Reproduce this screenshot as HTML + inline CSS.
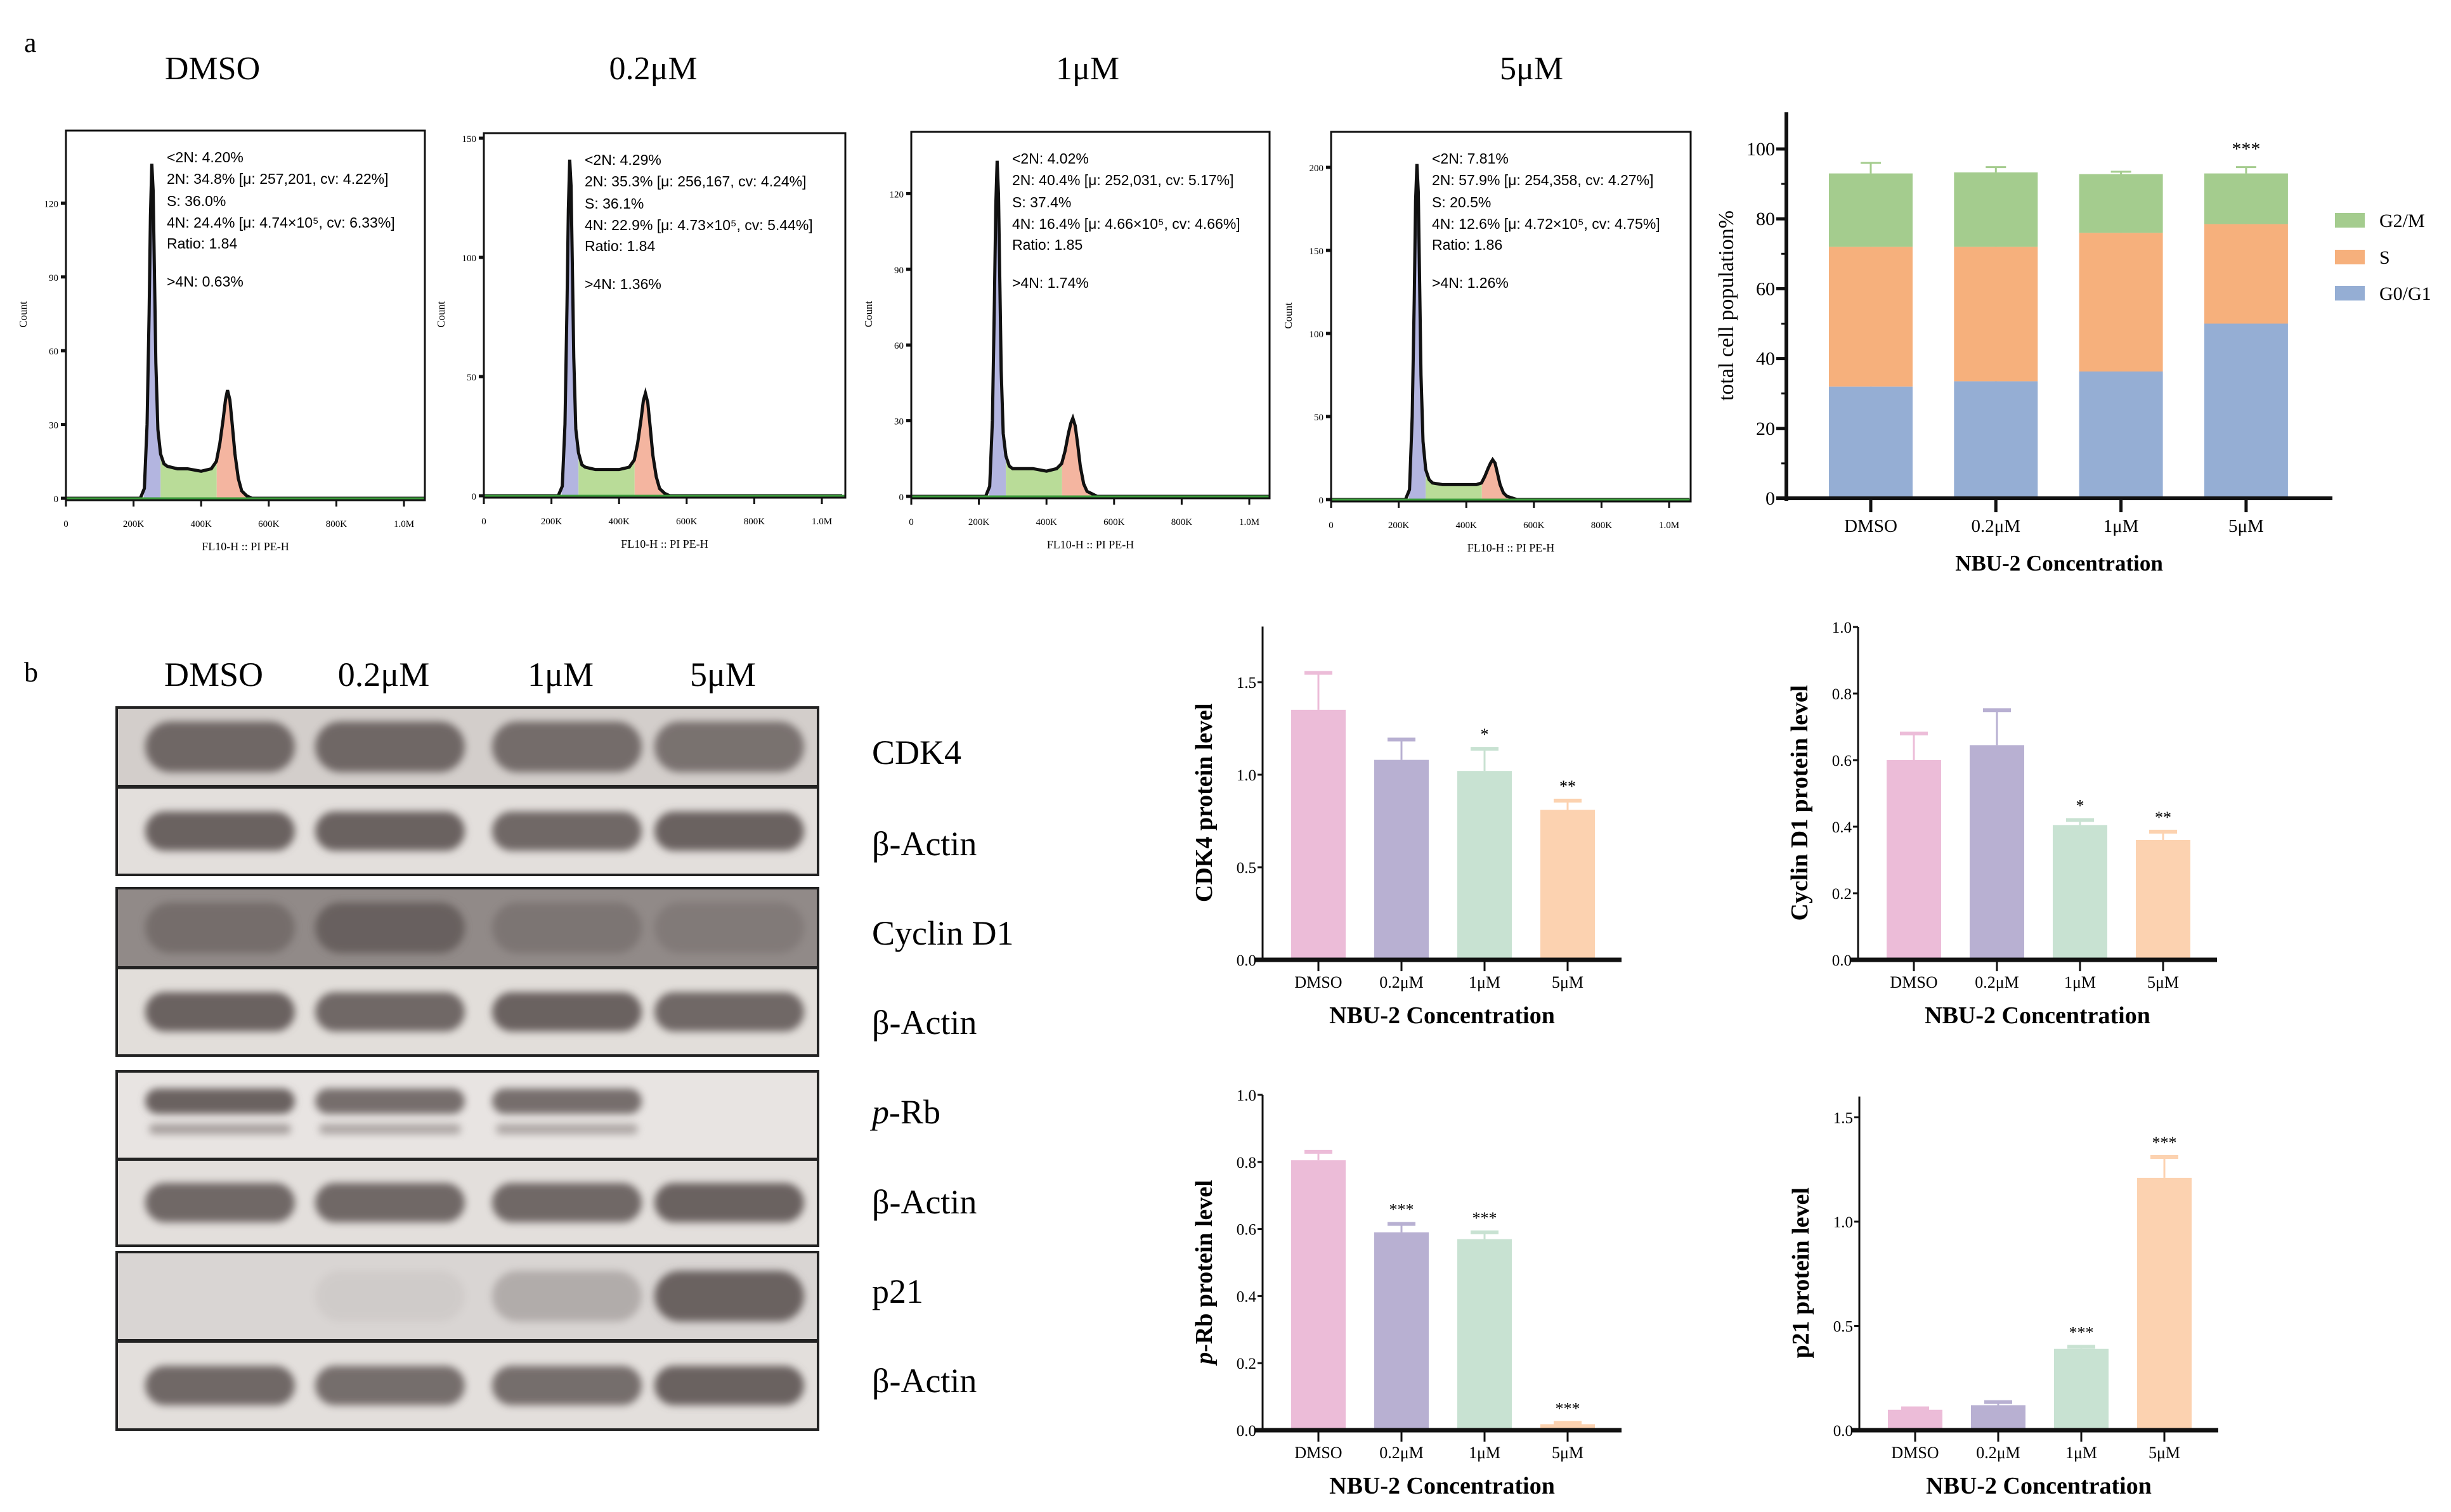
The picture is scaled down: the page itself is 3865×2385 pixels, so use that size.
<!DOCTYPE html>
<html><head><meta charset="utf-8">
<style>
html,body{margin:0;padding:0;background:#fff;}
svg{display:block;}
</style></head>
<body>
<svg id="fig" xmlns="http://www.w3.org/2000/svg" width="3865" height="2385" viewBox="0 0 3865 2385">
<rect width="3865" height="2385" fill="#fff"/>
<text x="38" y="82" font-family="Liberation Serif, serif" font-size="44">a</text>
<text x="38" y="1075" font-family="Liberation Serif, serif" font-size="44">b</text>
<g id="flow"></g>
<g id="stack"></g>
<g id="blot"></g>
<g id="bars"></g>
</svg>
<script>
const NS="http://www.w3.org/2000/svg";
function mk(tag,attrs,parent,text){const e=document.createElementNS(NS,tag);for(const k in attrs)e.setAttribute(k,attrs[k]);if(text!==undefined)e.textContent=text;if(parent)parent.appendChild(e);return e;}
const SERIF="Liberation Serif, serif", SANS="Liberation Sans, sans-serif";

/* ---------- Flow cytometry data ---------- */
const flowTitles=["DMSO","0.2\u03bcM","1\u03bcM","5\u03bcM"];
const flowX=[0,220,232,240,246,250,254,258,262,266,272,280,290,300,330,360,400,430,445,455,465,472,478,485,492,500,510,520,535,550,1060];
const flowDMSO=[0,0,4,30,75,115,136,125,90,55,28,18,14,13,12,12,11,12,15,22,32,40,44,40,30,18,8,3,1,0,0];
const flow02=[0,0,4,30,80,120,141,130,95,58,28,18,13,12,11,11,11,12,15,22,32,40,43,39,29,17,8,3,1,0,0];
const flow1=[0,0,4,30,78,115,133,120,85,50,25,16,12,11,11,11,10,11,13,18,25,29,31,28,21,12,5,2,1,0,0];
const flow5=[0,0,6,50,120,180,202,185,130,75,35,18,12,10,9,9,9,9,10,14,19,22,24,22,16,9,4,2,1,0,0];
const flowCounts=[flowDMSO,flow02,flow1,flow5];
const flowTicks=[[0,30,60,90,120],[0,50,100,150],[0,30,60,90,120],[0,50,100,150,200]];
const flowXTicks=["0","200K","400K","600K","800K","1.0M"];
const flowStats=[
["<2N: 4.20%","2N: 34.8%  [\u03bc: 257,201, cv: 4.22%]","S: 36.0%","4N: 24.4%  [\u03bc: 4.74\u00d710\u2075, cv: 6.33%]","Ratio: 1.84",">4N: 0.63%"],
["<2N: 4.29%","2N: 35.3%  [\u03bc: 256,167, cv: 4.24%]","S: 36.1%","4N: 22.9%  [\u03bc: 4.73\u00d710\u2075, cv: 5.44%]","Ratio: 1.84",">4N: 1.36%"],
["<2N: 4.02%","2N: 40.4%  [\u03bc: 252,031, cv: 5.17%]","S: 37.4%","4N: 16.4%  [\u03bc: 4.66\u00d710\u2075, cv: 4.66%]","Ratio: 1.85",">4N: 1.74%"],
["<2N: 7.81%","2N: 57.9%  [\u03bc: 254,358, cv: 4.27%]","S: 20.5%","4N: 12.6%  [\u03bc: 4.72\u00d710\u2075, cv: 4.75%]","Ratio: 1.86",">4N: 1.26%"]];
const flowLayout=[{x0:104,x1:670,top:206,base:786,ppc:3.88,titleX:335},{x0:763,x1:1333,top:210,base:782,ppc:3.76,titleX:1030},{x0:1437,x1:2002,top:208,base:783,ppc:3.98,titleX:1715},{x0:2099,x1:2666,top:208,base:788,ppc:2.62,titleX:2415}];

(function(){
const g=document.getElementById('flow');
flowLayout.forEach((L,p)=>{
 const pg=mk('g',{},g);
 
 
 const ppk=0.533;
 const sx=k=>L.x0+k*ppk, sy=c=>L.base-c*L.ppc;
 const t=mk('text',{x:L.titleX,y:125,'font-family':SERIF,'font-size':52,'text-anchor':'middle'},pg,flowTitles[p]);
 
 
 let pts=flowX.map((k,i)=>sx(k)+','+sy(flowCounts[p][i])).join(' ');
 const cid='clipf'+p;
 const cp=mk('clipPath',{id:cid},pg);mk('polygon',{points:pts},cp);
 const fills=[[230,280,'#b3b5e0'],[280,446,'#b9dc98'],[446,560,'#f4b5a0']];
 fills.forEach(f=>{mk('rect',{x:sx(f[0]),y:L.top,width:sx(f[1])-sx(f[0]),height:L.base-L.top,fill:f[2],'clip-path':'url(#'+cid+')'},pg);});
 const poly=mk('polyline',{points:pts,fill:'none',stroke:'#111','stroke-width':5},pg);
 
 
 mk('line',{x1:L.x0,y1:L.base,x2:L.x1,y2:L.base,stroke:'#3a9a3a','stroke-width':3},pg);
 mk('rect',{x:L.x0,y:L.top,width:L.x1-L.x0,height:L.base+3-L.top,fill:'none',stroke:'#111','stroke-width':3},pg);
 flowTicks[p].forEach(v=>{mk('line',{x1:L.x0-8,y1:sy(v),x2:L.x0,y2:sy(v),stroke:'#111','stroke-width':5},pg);
  mk('text',{x:L.x0-12,y:sy(v)+6,'font-family':SERIF,'font-size':15,'text-anchor':'end'},pg,String(v));});
 flowXTicks.forEach((s,i)=>{const x=sx(i*200);mk('line',{x1:x,y1:L.base+3,x2:x,y2:L.base+13,stroke:'#111','stroke-width':3},pg);
  mk('text',{x:x,y:L.base+45,'font-family':SERIF,'font-size':15,'text-anchor':'middle'},pg,s);});
 mk('text',{x:0,y:0,'font-family':SERIF,'font-size':17,'text-anchor':'middle',transform:'translate('+(L.x0-62)+','+((L.top+L.base)/2)+') rotate(-90)'},pg,'Count');
 mk('text',{x:(L.x0+L.x1)/2,y:L.base+82,'font-family':SERIF,'font-size':18,'text-anchor':'middle'},pg,'FL10-H :: PI PE-H');
 const offs=[42,76,111,145,178,238];
 flowStats[p].forEach((s,i)=>{const tt=mk('text',{x:L.x0+159,y:L.top+offs[i]+8,'font-family':SANS,'font-size':23},pg,s);
  
  });
});
})();

/* ---------- Stacked chart data ---------- */
const stackCats=["DMSO","0.2\u03bcM","1\u03bcM","5\u03bcM"];
const stackG0=[32,33.5,36.3,50];
const stackS=[40,38.5,39.7,28.5];
const stackG2=[21,21.3,16.8,14.5];
const errG0=[2.5,1.8,3.7,8.5];
const errS=[3.5,2.3,3,7];
const errG2=[3,1.5,0.7,1.8];
const stackTicks=[0,20,40,60,80,100];
const stackSig=["","","","***"];
(function(){
 const g=document.getElementById('stack');
 const X0=2817,Y0=786,PPU=5.51,XE=3678;
 const y=v=>Y0-v*PPU, cx=i=>2950+i*197.3, bw=132;
 const cols=['#95aed4','#f6b07c','#a4cc8e'];
 stackCats.forEach((c,i)=>{
  const segs=[stackG0[i],stackS[i],stackG2[i]], errs=[errG0[i],errS[i],errG2[i]];
  let base=0;
  segs.forEach((v,k)=>{
   const r=mk('rect',{x:cx(i)-bw/2,y:y(base+v),width:bw,height:v*PPU,fill:cols[k]},g);
   
   
   const top=base+v, et=top+errs[k];
   mk('line',{x1:cx(i),y1:y(top),x2:cx(i),y2:y(et),stroke:cols[k],'stroke-width':3},g);
   mk('line',{x1:cx(i)-16,y1:y(et),x2:cx(i)+16,y2:y(et),stroke:cols[k],'stroke-width':3},g);
   base=top;
  });
  if(stackSig[i]) mk('text',{x:cx(i),y:y(base+errs[2]+3.5),'font-family':SERIF,'font-size':30,'text-anchor':'middle'},g,stackSig[i]);
  mk('line',{x1:cx(i),y1:Y0,x2:cx(i),y2:Y0+22,stroke:'#111','stroke-width':5},g);
  mk('text',{x:cx(i),y:Y0+53,'font-family':SERIF,'font-size':29,'text-anchor':'middle'},g,c);
 });
 mk('line',{x1:X0,y1:y(110.5),x2:X0,y2:Y0+4,stroke:'#111','stroke-width':6},g);
 mk('line',{x1:X0-16,y1:Y0,x2:XE,y2:Y0,stroke:'#111','stroke-width':6},g);
 stackTicks.forEach(v=>{mk('line',{x1:X0-16,y1:y(v),x2:X0,y2:y(v),stroke:'#111','stroke-width':5},g);
  mk('text',{x:X0-18,y:y(v)+10,'font-family':SERIF,'font-size':30,'text-anchor':'end'},g,String(v));});
 [10,30,50,70,90].forEach(v=>mk('line',{x1:X0-8,y1:y(v),x2:X0,y2:y(v),stroke:'#111','stroke-width':3},g));
 mk('text',{x:0,y:0,'font-family':SERIF,'font-size':34,'text-anchor':'middle',transform:'translate(2733,482) rotate(-90)'},g,'total cell population%');
 mk('text',{x:3247,y:900,'font-family':SERIF,'font-size':35,'font-weight':'bold','text-anchor':'middle'},g,'NBU-2 Concentration');
 const leg=[['G2/M','#a4cc8e',336],['S','#f6b07c',394],['G0/G1','#95aed4',451]];
 leg.forEach(l=>{const r=mk('rect',{x:3682,y:l[2],width:47,height:23,fill:l[1]},g);
  
  
  mk('text',{x:3752,y:l[2]+22,'font-family':SERIF,'font-size':30},g,l[0]);});
})();

/* ---------- Western blot ---------- */
const blotLanes=["DMSO","0.2\u03bcM","1\u03bcM","5\u03bcM"];
const blotRows=["CDK4","\u03b2-Actin","Cyclin D1","\u03b2-Actin","p-Rb","\u03b2-Actin","p21","\u03b2-Actin"];
const blotIntensity=[[0.95,0.95,0.9,0.85],[1,1,0.95,1],[0.55,0.8,0.4,0.3],[1,0.95,1,0.95],[1,0.9,0.9,0],[0.95,0.95,0.95,1],[0,0.08,0.35,1],[0.95,0.9,0.9,1]];
(function(){
 const g=document.getElementById('blot');
 const rows=[[1116,1240],[1242,1380],[1401,1526],[1527,1665],[1690,1828],[1829,1965],[1975,2114],[2116,2255]];
 const bgs=['#d3cecb','#e3dfdc','#918a88','#e2deda','#e8e4e2','#e3dfdc','#d9d5d3','#e3dfdc'];
 const lx=[347,615,894,1150];
 mk('defs',{},g).innerHTML='<filter id="bl" x="-30%" y="-60%" width="160%" height="220%"><feGaussianBlur stdDeviation="6"/></filter>';
 const labelY=[1187,1331,1472,1613,1754,1896,2037,2178];
 rows.forEach((r,i)=>{
  const rg=mk('g',{},g);
  
  
  mk('rect',{x:184,y:r[0],width:1106,height:r[1]-r[0],fill:bgs[i]},rg);
  const mid=(r[0]+r[1])/2;
  blotIntensity[i].forEach((v,j)=>{ if(v<=0) return;
   const dark=i===2?'#5e5654':'#6a6260';
   const h=(i%2===1)?62:(i===4?40:80);
   const cy=i===4?mid-22:mid;
   mk('rect',{x:lx[j]-118,y:cy-h/2,width:236,height:h,rx:h/2,fill:dark,opacity:v,filter:'url(#bl)'},rg);
   if(i===4) mk('rect',{x:lx[j]-112,y:mid+14,width:224,height:16,rx:8,fill:'#8a8280',opacity:v*0.7,filter:'url(#bl)'},rg);
  });
  mk('rect',{x:184,y:r[0],width:1106,height:r[1]-r[0],fill:'none',stroke:'#222','stroke-width':4},rg);
  const lbl=blotRows[i];
  const t=mk('text',{x:1375,y:labelY[i]+18,'font-family':SERIF,'font-size':54},g);
  if(lbl==='p-Rb'){mk('tspan',{'font-style':'italic'},t,'p');mk('tspan',{},t,'-Rb');} else t.textContent=lbl;
  
  
 });
 blotLanes.forEach((l,j)=>mk('text',{x:lx[j]-10,y:1082,'font-family':SERIF,'font-size':54,'text-anchor':'middle'},g,l));
})();

/* ---------- Protein bar charts ---------- */
const barCats=["DMSO","0.2\u03bcM","1\u03bcM","5\u03bcM"];
const cdk4Vals=[1.35,1.08,1.02,0.81];
const cdk4Err=[0.20,0.11,0.12,0.05];
const cdk4Sig=["","","*","**"];
const cdk4Ticks=["0.0","0.5","1.0","1.5"];
const cycVals=[0.60,0.645,0.405,0.36];
const cycErr=[0.08,0.105,0.015,0.025];
const cycSig=["","","*","**"];
const cycTicks=["0.0","0.2","0.4","0.6","0.8","1.0"];
const prbVals=[0.805,0.59,0.57,0.018];
const prbErr=[0.025,0.025,0.02,0.004];
const prbSig=["","***","***","***"];
const prbTicks=["0.0","0.2","0.4","0.6","0.8","1.0"];
const p21Vals=[0.098,0.12,0.39,1.21];
const p21Err=[0.007,0.015,0.01,0.10];
const p21Sig=["","","***","***"];
const p21Ticks=["0.0","0.5","1.0","1.5"];
(function(){
 const g=document.getElementById('bars');
 const cols=['#ecbcd8','#b8b0d2','#c8e2d2','#fcd2b0'];
 function chart(name,ax,base,ppu,ymax,vals,errs,sig,ticks,label,italic){
  const cg=mk('g',{},g);
  
  
  const y=v=>base-v*ppu, cx=i=>ax+88+i*131, bw=86;
  vals.forEach((v,i)=>{
   const r=mk('rect',{x:cx(i)-bw/2,y:y(v),width:bw,height:v*ppu,fill:cols[i]},cg);
   
   
   const et=v+errs[i];
   mk('line',{x1:cx(i),y1:y(v),x2:cx(i),y2:y(et),stroke:cols[i],'stroke-width':3},cg);
   mk('line',{x1:cx(i)-22,y1:y(et),x2:cx(i)+22,y2:y(et),stroke:cols[i],'stroke-width':6},cg);
   if(sig[i]) mk('text',{x:cx(i),y:y(et)-14,'font-family':SERIF,'font-size':26,'text-anchor':'middle'},cg,sig[i]);
   mk('line',{x1:cx(i),y1:base,x2:cx(i),y2:base+18,stroke:'#111','stroke-width':3},cg);
   mk('text',{x:cx(i),y:base+44,'font-family':SERIF,'font-size':26,'text-anchor':'middle'},cg,barCats[i]);
  });
  mk('line',{x1:ax,y1:y(ymax),x2:ax,y2:base,stroke:'#111','stroke-width':3},cg);
  mk('line',{x1:ax-12,y1:base,x2:ax+566,y2:base,stroke:'#111','stroke-width':7},cg);
  ticks.forEach(s=>{const v=parseFloat(s);mk('line',{x1:ax-8,y1:y(v),x2:ax,y2:y(v),stroke:'#111','stroke-width':3},cg);
   mk('text',{x:ax-10,y:y(v)+9,'font-family':SERIF,'font-size':25,'text-anchor':'end'},cg,s);});
  const lt=mk('text',{x:0,y:0,'font-family':SERIF,'font-size':38,'font-weight':'bold','text-anchor':'middle',transform:'translate('+(ax-80)+','+(base-(ymax*ppu)/2+15)+') rotate(-90)'},cg);
  if(italic){mk('tspan',{'font-style':'italic'},lt,'p');mk('tspan',{},lt,label);} else lt.textContent=label;
  mk('text',{x:ax+283,y:base+100,'font-family':SERIF,'font-size':38,'font-weight':'bold','text-anchor':'middle'},cg,'NBU-2 Concentration');
 }
 chart('cdk4-chart',1991,1514,292,1.8,cdk4Vals,cdk4Err,cdk4Sig,cdk4Ticks,'CDK4 protein level',false);
 chart('cyclin-d1-chart',2930,1514,525,1.0,cycVals,cycErr,cycSig,cycTicks,'Cyclin D1 protein level',false);
 chart('prb-chart',1991,2256,529,1.0,prbVals,prbErr,prbSig,prbTicks,'-Rb protein level',true);
 chart('p21-chart',2932,2256,329,1.6,p21Vals,p21Err,p21Sig,p21Ticks,'p21 protein level',false);
})();
</script>
</body></html>
